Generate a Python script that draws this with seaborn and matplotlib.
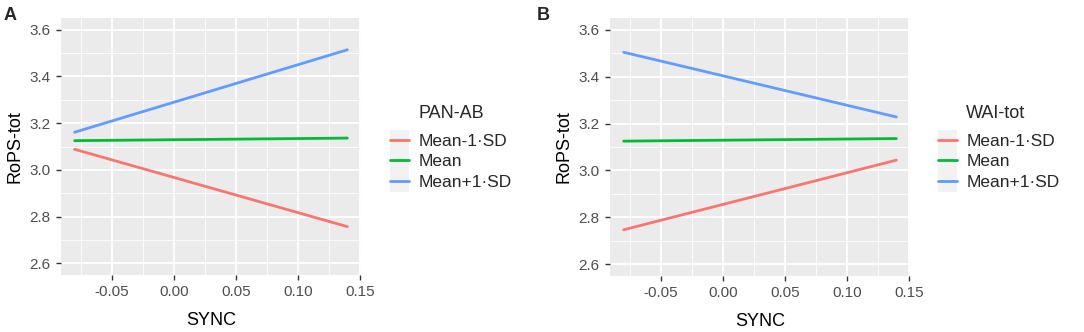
import numpy as np
import pandas as pd
import matplotlib
matplotlib.use("Agg")
import matplotlib.pyplot as plt
import seaborn as sns
from matplotlib.patches import Rectangle
from matplotlib.lines import Line2D

# Datos (valores predichos en los extremos de SYNC)
sync = [-0.08, 0.14]
niveles = ["Mean-1·SD", "Mean", "Mean+1·SD"]

pan_bajo = [3.088, 2.757]
pan_medio = [3.125, 3.136]
pan_alto = [3.161, 3.514]

wai_bajo = [2.747, 3.044]
wai_medio = [3.125, 3.136]
wai_alto = [3.504, 3.228]

colores = ["#F8766D", "#00BA38", "#619CFF"]
x_ticks = [-0.05, 0.00, 0.05, 0.10, 0.15]
y_ticks = [2.6, 2.8, 3.0, 3.2, 3.4, 3.6]


def tabla(bajo, medio, alto):
    filas = []
    for nivel, vals in zip(niveles, [bajo, medio, alto]):
        for x, y in zip(sync, vals):
            filas.append({"SYNC": x, "RoPS-tot": y, "grupo": nivel})
    return pd.DataFrame(filas)


datos_a = tabla(pan_bajo, pan_medio, pan_alto)
datos_b = tabla(wai_bajo, wai_medio, wai_alto)

sns.set_style("white")
plt.rcParams["font.family"] = ["Liberation Sans", "DejaVu Sans"]

W, H = 1084, 332
fig = plt.figure(figsize=(W / 100, H / 100), dpi=100)


def panel(px_left, px_right, px_top, px_bottom, datos, titulo_leyenda, leg_x, letra, letra_x):
    ax = fig.add_axes([px_left / W, 1 - px_bottom / H,
                       (px_right - px_left) / W, (px_bottom - px_top) / H])
    ax.set_facecolor("#EBEBEB")
    sns.lineplot(data=datos, x="SYNC", y="RoPS-tot", hue="grupo",
                 hue_order=niveles, palette=colores, linewidth=2.0,
                 ax=ax, legend=False)
    ax.set_xlim(-0.091, 0.151)
    ax.set_ylim(2.55, 3.65)
    ax.set_xticks(x_ticks)
    ax.set_xticklabels([f"{t:.2f}" for t in x_ticks])
    ax.set_yticks(y_ticks)
    ax.set_yticklabels([f"{t:.1f}" for t in y_ticks])
    ax.set_xticks([-0.075, -0.025, 0.025, 0.075, 0.125], minor=True)
    ax.set_yticks([2.7, 2.9, 3.1, 3.3, 3.5], minor=True)
    ax.grid(which="major", color="white", linewidth=1.3)
    ax.grid(which="minor", color="white", linewidth=0.6)
    ax.set_axisbelow(True)
    for s in ax.spines.values():
        s.set_visible(False)
    ax.tick_params(which="major", direction="out", length=3.5, width=1.0,
                   color="#333333", labelcolor="#4D4D4D", labelsize=11, pad=4,
                   bottom=True, left=True)
    ax.tick_params(which="minor", length=0)
    ax.set_xlabel("SYNC", fontsize=13, color="black", labelpad=9)
    ax.set_ylabel("RoPS-tot", fontsize=13, color="black", labelpad=4)

    # leyenda: fondo gris de las claves, título y entradas
    fig.patches.append(Rectangle((leg_x / W, 1 - 192 / H), 19 / W, 62 / H,
                                 transform=fig.transFigure, facecolor="#F2F2F2",
                                 edgecolor="none", zorder=0))
    fig.text((leg_x + 28) / W, 1 - 113 / H, titulo_leyenda, fontsize=13,
             va="center", ha="left")
    handles = [Line2D([], [], color=c, linewidth=2.0) for c in colores]
    fig.legend(handles, niveles, loc="upper left",
               bbox_to_anchor=((leg_x - 2) / W, 1 - 132 / H),
               frameon=False, fontsize=12.5,
               handlelength=1.1, handletextpad=0.55, labelspacing=0.3,
               borderaxespad=0, borderpad=0.1)
    fig.text(letra_x / W, 1 - 15 / H, letra, fontsize=13, fontweight="bold",
             va="center", ha="left")
    return ax


panel(61, 361, 18, 275, datos_a, "PAN-AB", 390, "A", 4)
panel(610, 910, 18, 276, datos_b, "WAI-tot", 938, "B", 537)

fig.savefig("out.png", dpi=100)
